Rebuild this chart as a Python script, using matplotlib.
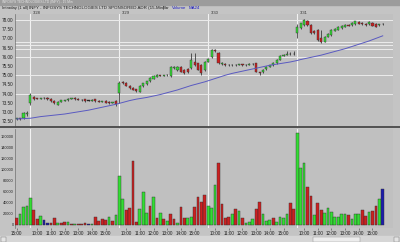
import numpy as np
import matplotlib
matplotlib.use("Agg")
import matplotlib.pyplot as plt
from matplotlib.patches import Rectangle

plt.rcParams["font.family"] = ["Liberation Sans Narrow", "Liberation Sans", "DejaVu Sans"]

# ---- data (15-min bars, 3/28 15:00 .. 3/31 15:45) ----
opens = [72.60, 72.66, 72.65, 72.88,
         73.47, 73.83, 73.74, 73.72, 73.76, 73.76, 73.70, 73.62, 73.40, 73.55, 73.62, 73.64, 73.72,
         73.76, 73.72, 73.66, 73.68, 73.62, 73.62, 73.70, 73.62, 73.56, 73.60, 73.55, 73.50, 73.60,
         74.05, 74.62, 74.58, 74.44, 74.32, 74.24, 74.10, 74.40, 74.52, 74.66, 74.80, 74.92, 75.00,
         74.97, 74.99, 74.94, 75.38, 75.26, 75.46, 75.30, 75.36, 75.38, 75.74, 75.65, 75.58, 75.28,
         75.74, 75.98, 76.36, 76.22, 75.62, 75.62, 75.55, 75.57, 75.53, 75.56, 75.60, 75.55, 75.58,
         75.62, 75.64, 75.16, 75.18, 75.32, 75.45, 75.55, 75.66, 75.85, 76.05, 76.12, 76.16, 76.15,
         77.30, 77.55, 77.73, 77.96, 77.73, 77.40, 77.46, 77.00, 76.82, 77.10, 77.18, 77.42, 77.46,
         77.55, 77.62, 77.72, 77.73, 77.78, 77.90, 77.85, 77.80, 77.78, 77.84, 77.80, 77.73, 77.78]
highs = [72.70, 72.69, 72.98, 73.06,
         74.05, 73.88, 73.78, 73.78, 73.80, 73.79, 73.74, 73.65, 73.58, 73.66, 73.67, 73.75, 73.77,
         73.79, 73.75, 73.70, 73.71, 73.66, 73.69, 73.73, 73.65, 73.61, 73.63, 73.58, 73.55, 73.63,
         74.70, 74.66, 74.62, 74.48, 74.36, 74.27, 74.46, 74.60, 74.70, 74.88, 75.00, 75.04, 75.03,
         75.02, 75.05, 75.48, 75.50, 75.48, 75.50, 75.34, 75.40, 76.19, 76.19, 75.69, 75.62, 75.76,
         75.94, 76.40, 76.42, 76.26, 75.70, 75.66, 75.60, 75.60, 75.59, 75.63, 75.63, 75.61, 75.65,
         75.66, 75.68, 75.20, 75.33, 75.48, 75.58, 75.70, 75.86, 76.08, 76.16, 76.30, 76.26, 76.30,
         77.80, 77.86, 78.05, 78.00, 77.76, 77.48, 77.50, 77.46, 77.14, 77.28, 77.50, 77.56, 77.68,
         77.74, 77.78, 77.76, 77.90, 77.96, 77.94, 77.88, 77.84, 77.94, 77.88, 77.84, 77.80, 77.82]
lows = [72.56, 72.58, 72.62, 72.80,
        73.40, 73.66, 73.68, 73.69, 73.71, 73.64, 73.57, 73.44, 73.36, 73.52, 73.59, 73.61, 73.69,
        73.67, 73.63, 73.62, 73.57, 73.59, 73.60, 73.55, 73.52, 73.53, 73.47, 73.45, 73.47, 73.35,
        73.50, 74.52, 74.40, 74.26, 74.17, 74.08, 74.06, 74.37, 74.49, 74.63, 74.77, 74.89, 74.94,
        74.94, 74.96, 74.90, 75.35, 75.22, 75.17, 75.08, 75.12, 75.34, 75.52, 75.26, 75.00, 75.24,
        75.70, 75.94, 76.26, 75.62, 75.58, 75.51, 75.52, 75.50, 75.50, 75.53, 75.52, 75.52, 75.55,
        75.57, 75.16, 75.00, 75.14, 75.28, 75.42, 75.52, 75.63, 75.82, 76.02, 76.09, 76.10, 76.08,
        77.00, 77.50, 77.70, 77.70, 77.24, 77.26, 76.88, 76.73, 76.78, 77.06, 77.15, 77.39, 77.43,
        77.52, 77.60, 77.66, 77.70, 77.75, 77.76, 77.75, 77.70, 77.75, 77.66, 77.60, 77.68, 77.74]
closes = [72.66, 72.62, 72.92, 72.95,
          73.92, 73.70, 73.72, 73.74, 73.75, 73.68, 73.60, 73.48, 73.55, 73.63, 73.64, 73.72, 73.74,
          73.70, 73.66, 73.65, 73.60, 73.62, 73.66, 73.58, 73.55, 73.58, 73.50, 73.48, 73.52, 73.42,
          74.60, 74.58, 74.44, 74.30, 74.20, 74.12, 74.42, 74.56, 74.66, 74.84, 74.96, 75.00, 74.97,
          74.99, 75.02, 75.44, 75.46, 75.44, 75.20, 75.12, 75.16, 75.82, 75.56, 75.30, 75.12, 75.72,
          75.90, 76.36, 76.30, 75.66, 75.66, 75.55, 75.57, 75.53, 75.56, 75.60, 75.55, 75.58, 75.62,
          75.60, 75.20, 75.10, 75.30, 75.45, 75.55, 75.66, 75.82, 76.05, 76.12, 76.14, 76.14, 76.17,
          77.64, 77.82, 78.00, 77.73, 77.28, 77.30, 76.91, 76.82, 77.10, 77.25, 77.46, 77.52, 77.64,
          77.70, 77.74, 77.70, 77.86, 77.93, 77.80, 77.79, 77.73, 77.90, 77.70, 77.64, 77.76, 77.78]
ma24 = [72.62, 72.63, 72.64, 72.65,
        72.66, 72.69, 72.72, 72.75, 72.77, 72.79, 72.81, 72.83, 72.85, 72.87, 72.89, 72.92, 72.95,
        72.98, 73.01, 73.04, 73.07, 73.10, 73.14, 73.18, 73.22, 73.26, 73.30, 73.34, 73.38, 73.42,
        73.47, 73.52, 73.57, 73.62, 73.66, 73.70, 73.73, 73.76, 73.79, 73.83, 73.87, 73.91, 73.95,
        74.00, 74.05, 74.10, 74.15, 74.20, 74.26, 74.32, 74.38, 74.44, 74.49, 74.54, 74.59, 74.64,
        74.70, 74.76, 74.82, 74.88, 74.94, 75.00, 75.05, 75.10, 75.14, 75.18, 75.22, 75.26, 75.30,
        75.34, 75.38, 75.42, 75.46, 75.50, 75.54, 75.57, 75.60, 75.63, 75.66, 75.69, 75.72, 75.76,
        75.80, 75.85, 75.89, 75.93, 75.97, 76.01, 76.05, 76.09, 76.14, 76.19, 76.24, 76.29, 76.34,
        76.39, 76.44, 76.50, 76.56, 76.62, 76.68, 76.74, 76.80, 76.86, 76.93, 77.00, 77.07, 77.14]
volume_k = [12, 20, 32, 34,
            48, 27, 11, 16, 9, 4, 3, 13, 3, 3, 6, 5, 1, 2, 2, 1, 3, 2, 2, 15, 8, 11, 9, 14, 7, 18,
            88, 47, 27, 30, 115, 6, 28, 60, 22, 34, 51, 13, 22, 10, 8, 20, 10, 3, 32, 13, 12, 14, 32, 50, 42, 54,
            35, 30, 72, 111, 38, 12, 15, 19, 28, 25, 13, 4, 6, 11, 28, 41, 19, 8, 9, 13, 5, 14, 12, 19, 39, 28,
            166, 102, 111, 69, 52, 18, 39, 27, 21, 30, 24, 14, 15, 20, 19, 18, 11, 20, 20, 27, 17, 23, 25, 35, 47, 65]
volume_dir = ("rggg"
              "grrgbbrrgrrgrgrrrbgrrrrgrg"
              "ggrrrrgggrgrgrgrrgrrggrrrr"
              "gggrrrrgrgrgggrrgggrggggrr"
              "gggrrgrrgggggggrgggrrgrrgb")

day_starts = [4, 30, 56, 82]
day_labels = ["3/28", "3/29", "3/30", "3/31"]
price_ticks = [78.00, 77.50, 77.00, 76.50, 76.00, 75.50, 75.00, 74.50, 74.00, 73.50, 73.00, 72.50]
level_lines = [78.00, 76.80, 76.65, 76.42, 76.00, 75.00, 74.00]
vol_ticks = [0, 20000, 40000, 60000, 80000, 100000, 120000, 140000, 160000]
hour_labels = ["10:00", "11:00", "12:00", "13:00", "14:00", "15:00"]

BG = "#c0c0c0"
GREEN = "#33dd33"
RED = "#cc2020"
BLUE = "#1c1caa"
colmap = {"g": GREEN, "r": RED, "b": BLUE}

x = np.arange(len(closes))
o = np.array(opens); c = np.array(closes)

fig = plt.figure(figsize=(4, 2.42), dpi=100)
fig.patch.set_facecolor("#c4c4c4")

W, H = 400.0, 242.0
ax1 = fig.add_axes([15 / W, 1 - 127 / H, 378 / W, 113 / H])
ax2 = fig.add_axes([15 / W, 1 - 228 / H, 378 / W, 99 / H])

for ax in (ax1, ax2):
    ax.set_facecolor(BG)
    for s in ["top", "right", "bottom"]:
        ax.spines[s].set_visible(False)
    ax.spines["left"].set_color("#707070")
    ax.spines["left"].set_linewidth(0.5)
    ax.set_xlim(-0.5, 110)
    for d in day_starts:
        ax.axvline(d, color="#f2f2f2", lw=0.8, zorder=1)

# ---- price panel ----
for lv in level_lines:
    ax1.axhline(lv, color="#ececec", lw=0.7, zorder=1)
ax1.vlines(x, lows, highs, color="#202020", lw=0.5, zorder=2)
up = c > o
dn = c < o
body_col = np.where(up, GREEN, np.where(dn, RED, "#202020"))
ax1.bar(x, np.maximum(np.abs(c - o), 0.02), bottom=np.minimum(o, c), width=0.62,
        color=body_col, edgecolor="#303030", linewidth=0.3, zorder=3)
ax1.plot(x, ma24, color="#5a5ac0", lw=0.7, zorder=4)
ax1.set_ylim(72.185, 78.326)
ax1.set_yticks(price_ticks)
ax1.set_yticklabels([f"{v:.2f}" for v in price_ticks])
ax1.set_xticks([])
ax1.tick_params(axis="y", length=0, pad=1, labelsize=3.3, labelcolor="#202020")
for d, lab in zip(day_starts, day_labels):
    ax1.text(d + 0.8, 78.38, lab, fontsize=3.0, color="#303030", va="center", ha="left", clip_on=False)

# ---- volume panel ----
vol = np.array(volume_k) * 1000
ax2.bar(x, vol, width=0.8, color=[colmap[k] for k in volume_dir],
        edgecolor="#303030", linewidth=0.3, zorder=3)
ax2.set_ylim(-5400, 172800)
ax2.set_yticks(vol_ticks)
ax2.set_yticklabels([str(v) for v in vol_ticks])
ticks = [0]
labels = ["15:00"]
for d in day_starts:
    for k, h in enumerate(hour_labels):
        ticks.append(d + 2 + 4 * k)
        labels.append(h)
ax2.set_xticks(ticks)
ax2.set_xticklabels(labels)
ax2.tick_params(axis="y", length=0, pad=0.8, labelsize=2.8, labelcolor="#202020")
ax2.tick_params(axis="x", length=1.2, width=0.4, pad=0.8, labelsize=3.3, labelcolor="#202020",
                color="#404040")

# ---- window chrome ----
fig.patches.append(Rectangle((0, 1 - 4.5 / H), 1, 4.5 / H, transform=fig.transFigure,
                             color="#9c9c9c", zorder=0))
fig.text(2 / W, 1 - 2.4 / H, "INFOSYS TECHNOLOGIES LTD (INFY) - 15 Min", fontsize=2.3,
         color="#e8e8e8", va="center")
fig.text(2 / W, 1 - 8 / H, "Intraday (1 all)", fontsize=3.0, color="#202020", va="center")
fig.text(29 / W, 1 - 8 / H, "INFY - INFOSYS TECHNOLOGIES LTD SPONSORED ADR (15-Min)",
         fontsize=3.2, color="#202020", va="center")
fig.text(163 / W, 1 - 8 / H, "Bar", fontsize=3.2, color="#202020", va="center")
fig.text(172 / W, 1 - 8 / H, "Volume", fontsize=3.2, color="#2020c0", va="center")
fig.text(189 / W, 1 - 8 / H, "MA24", fontsize=3.2, color="#2020c0", va="center")
fig.lines.append(plt.Line2D([0, 1], [1 - 127.5 / H] * 2, transform=fig.transFigure,
                            color="#484848", lw=1.3))
fig.patches.append(Rectangle((0, 0), 1, 6 / H, transform=fig.transFigure,
                             color="#d6d6d6", zorder=0))
fig.patches.append(Rectangle((313 / W, 0.5 / H), 47 / W, 5 / H, transform=fig.transFigure,
                             facecolor="#ececec", edgecolor="#8a8a8a", lw=0.3, zorder=1))
fig.patches.append(Rectangle((0.5 / W, 0.5 / H), 5 / W, 5 / H, transform=fig.transFigure,
                             facecolor="#e4e4e4", edgecolor="#707070", lw=0.3, zorder=1))
fig.patches.append(Rectangle((394 / W, 0.5 / H), 5 / W, 5 / H, transform=fig.transFigure,
                             facecolor="#e4e4e4", edgecolor="#707070", lw=0.3, zorder=1))

fig.savefig("out.png", dpi=100, facecolor=fig.get_facecolor())
